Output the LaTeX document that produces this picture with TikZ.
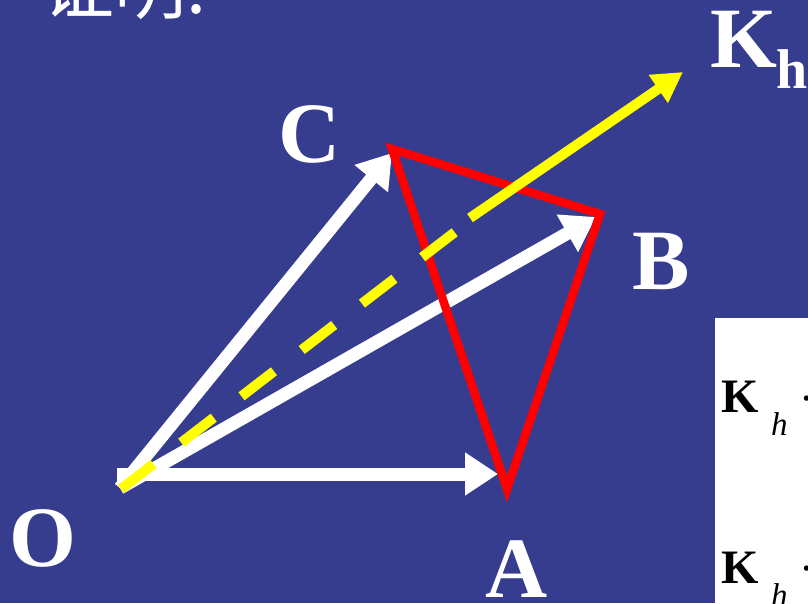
\documentclass[tikz,border=0pt]{standalone}
\usepackage{fontspec}
\setmainfont{Liberation Serif}
\newfontfamily\cjk{Noto Sans CJK SC}
\usetikzlibrary{arrows.meta}
\definecolor{bgblue}{RGB}{54,60,142}
\definecolor{kred}{RGB}{255,0,0}
\definecolor{kyellow}{RGB}{255,255,0}
\begin{document}
\begin{tikzpicture}[x=1pt,y=-1pt,
  lbl/.style={text=white,font=\fontsize{86}{86}\selectfont\bfseries,inner sep=0pt},
  vec/.style={white,line width=13pt,-{Triangle[length=33pt,width=41pt]}},
  tri/.style={kred,line width=8.5pt,line join=miter},
  ydash/.style={kyellow,line width=10pt,dash pattern=on 41pt off 35pt},
  yvec/.style={kyellow,line width=10pt,-{Triangle[length=30pt,width=32pt]}},
  boxK/.style={text=black,font=\fontsize{48}{48}\selectfont\bfseries,inner sep=0pt,anchor=base west},
  boxh/.style={text=black,font=\fontsize{33}{33}\selectfont\itshape,inner sep=0pt,anchor=base west},
  boxdot/.style={text=black,font=\fontsize{45}{45}\selectfont,inner sep=0pt}]
\fill[bgblue] (0,0) rectangle (808,603);
\useasboundingbox (0,0) rectangle (808,603);

% title
\node[text=white,font=\cjk\fontsize{72}{72}\selectfont,inner sep=0pt,anchor=base west] (title) at (42,13) {证明:};

% points
\coordinate (Oh) at (117,474);
\coordinate (O) at (120,488);
\coordinate (Atip) at (498,474);
\coordinate (Btip) at (596,217);
\coordinate (Ctip) at (392,153);
\coordinate (A) at (507,489);
\coordinate (B) at (600,214);
\coordinate (C) at (392,149);
\coordinate (Y1) at (121,489);
\coordinate (Y2) at (455,232);
\coordinate (Y3) at (470,218);
\coordinate (K) at (683,72);

% white vectors
\draw[vec] (Oh) -- (Atip);
\draw[vec] (O) -- (Ctip);
\draw[vec] (O) -- (Btip);

% red triangle
\draw[tri] (C) -- (B) -- (A) -- cycle;

% yellow
\draw[ydash] (Y1) -- (Y2);
\draw[yvec] (Y3) -- (K);

% labels
\node[lbl] (lO) at (43,538) {O};
\node[lbl] (lA) at (517,569) {A};
\node[lbl] (lB) at (661,261) {B};
\node[lbl] (lC) at (310,134) {C};
\node[lbl,anchor=base west] (lK) at (710,67) {K};
\node[text=white,font=\fontsize{56}{56}\selectfont\bfseries,inner sep=0pt,anchor=base west] (lh) at (776,88) {h};

% white box
\fill[white] (715,318) rectangle (808,603);
\begin{scope}
\clip (715,318) rectangle (808,603);
\node[boxK] (k1) at (721,412) {K};
\node[boxh] (h1) at (771,435) {h};
\node[boxdot] (d1) at (807,405) {·};
\node[boxK] (k2) at (721,583) {K};
\node[boxh] (h2) at (771,606) {h};
\node[boxdot] (d2) at (807,575) {·};
\end{scope}
\end{tikzpicture}
\end{document}
